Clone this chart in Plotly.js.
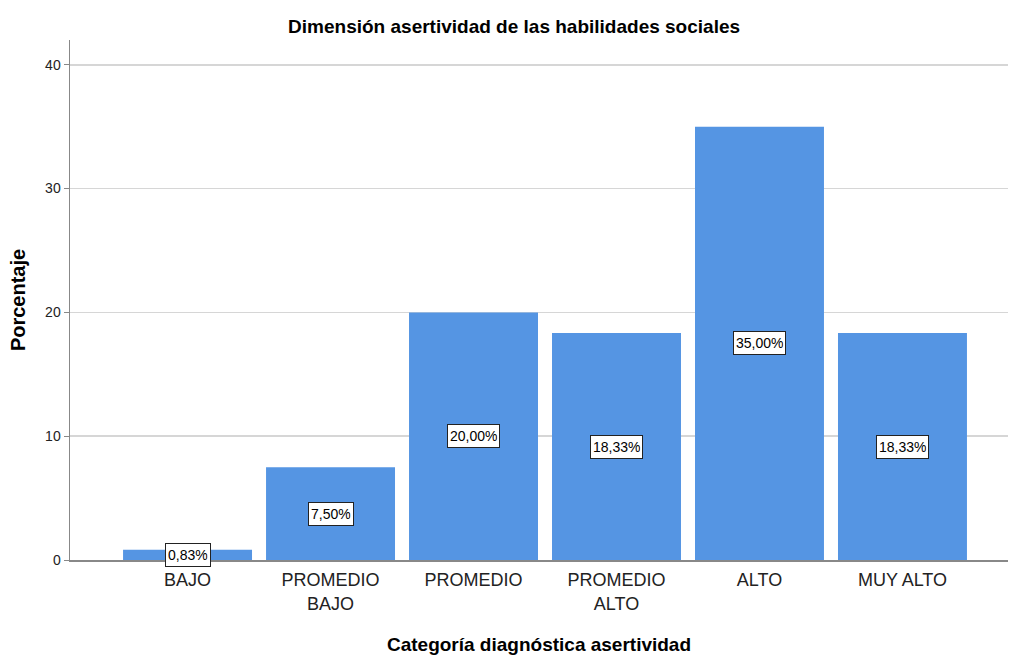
<!DOCTYPE html>
<html>
<head>
<meta charset="utf-8">
<script src="https://cdn.plot.ly/plotly-3.0.1.min.js"></script>
<style>html,body{margin:0;padding:0;background:#fff;}#chart{width:1010px;height:656px;}</style>
</head>
<body>
<div id="chart"></div>
<script>
const categories = ["BAJO", "PROMEDIO<br>BAJO", "PROMEDIO", "PROMEDIO<br>ALTO", "ALTO", "MUY ALTO"];
const percentages = [0.83, 7.50, 20.00, 18.33, 35.00, 18.33];
const labels = ["0,83%", "7,50%", "20,00%", "18,33%", "35,00%", "18,33%"];
const yTicks = [0, 10, 20, 30, 40];

const font = "Liberation Sans, Arial, sans-serif";

const trace = {
  type: "bar",
  x: categories,
  y: percentages,
  marker: {color: "#5595e3", line: {width: 0}},
  hoverinfo: "none"
};

const annotations = categories.map((c, i) => ({
  x: c, y: percentages[i] / 2, xref: "x", yref: "y",
  text: labels[i], showarrow: false, height: 18,
  bgcolor: "#ffffff", bordercolor: "#222222", borderwidth: 1, borderpad: 2,
  font: {family: font, size: 14, color: "#000"}
}));

const layout = {
  width: 1010, height: 656,
  margin: {l: 70, r: 2, t: 40, b: 96},
  paper_bgcolor: "#fff", plot_bgcolor: "#fff",
  bargap: 0.098,
  showlegend: false,
  title: {text: "<b>Dimensión asertividad de las habilidades sociales</b>",
          font: {family: font, size: 19, color: "#000"}, x: 0.509, xanchor: "center", y: 0.96, yanchor: "middle"},
  xaxis: {
    type: "category", range: [-0.822, 5.738],
    showline: true, linecolor: "#888", linewidth: 1.5,
    ticks: "", showgrid: false,
    tickfont: {family: font, size: 18, color: "#222"},
    ticklabelstandoff: 3,
    title: {text: "<b>Categoría diagnóstica asertividad</b>", font: {family: font, size: 19, color: "#000"}, standoff: 25}
  },
  yaxis: {
    range: [0, 42], tickvals: yTicks, ticktext: yTicks.map(String),
    showline: true, linecolor: "#888", linewidth: 1.5,
    ticks: "outside", ticklen: 5, tickcolor: "#888",
    showgrid: true, gridcolor: "#d6d6d6", gridwidth: 1.5,
    zeroline: false,
    tickfont: {family: font, size: 14, color: "#222"},
    title: {text: "<b>Porcentaje</b>", font: {family: font, size: 20, color: "#000"}, standoff: 14}
  },
  annotations: annotations
};

Plotly.newPlot("chart", [trace], layout, {displayModeBar: false, staticPlot: true});
</script>
</body>
</html>
